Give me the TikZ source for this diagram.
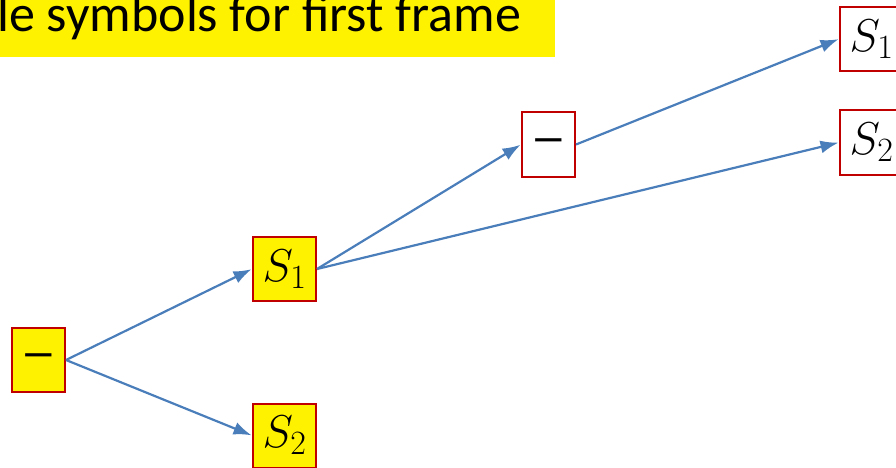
\RequirePackage{fix-cm}
\documentclass[tikz,border=0pt]{standalone}
\usepackage{fontspec}
\setmainfont{Carlito}
\usepackage{amsmath}
\usetikzlibrary{arrows.meta,positioning}
\definecolor{boxred}{HTML}{C00000}
\definecolor{linkblue}{HTML}{4A7EBB}
\DeclareMathSizes{46}{46}{34}{26}
\tikzset{
  symbox/.style={draw=boxred,line width=2pt,inner sep=0pt,minimum height=64pt,font=\fontsize{46}{50}\selectfont},
  sbox/.style={symbox,minimum width=63pt},
  dbox/.style={symbox,minimum width=53pt},
  link/.style={->,linkblue,line width=2.2pt,shorten >=0.5pt}
}
\newcommand{\dashsym}{{\fontsize{36}{40}\selectfont\bfseries —}}
\begin{document}
\begin{tikzpicture}[>={Latex[length=18pt,width=13pt]},x=1pt,y=-1pt]
  \useasboundingbox (0,0) rectangle (896,468);
  % title strip
  \fill[yellow] (-10,-10) rectangle (555,57);
  \node[anchor=base west,inner sep=0pt,font=\fontsize{52}{60}\selectfont] (title) at (-3,32) {le symbols for first frame};
  % first frame
  \node[dbox,fill=yellow] (root) at (38.5,360) {\dashsym};
  \node[sbox,fill=yellow] (sa) at (284.5,269) {$S_1$};
  \node[sbox,fill=yellow] (sb) at (284.5,435.5) {$S_2$};
  % second frame
  \node[dbox,fill=white] (mid) at (548.5,144.5) {\dashsym};
  \node[sbox,fill=white] (ra) at (871.5,39) {$S_1$};
  \node[sbox,fill=white] (rb) at (871.5,142.5) {$S_2$};
  \draw[link](root.east)--(sa.west);\draw[link](root.east)--(sb.west);
  \draw[link](sa.east)--(mid.west);\draw[link](sa.east)--(rb.west);
  \draw[link](mid.east)--(ra.west);
\end{tikzpicture}
\end{document}
